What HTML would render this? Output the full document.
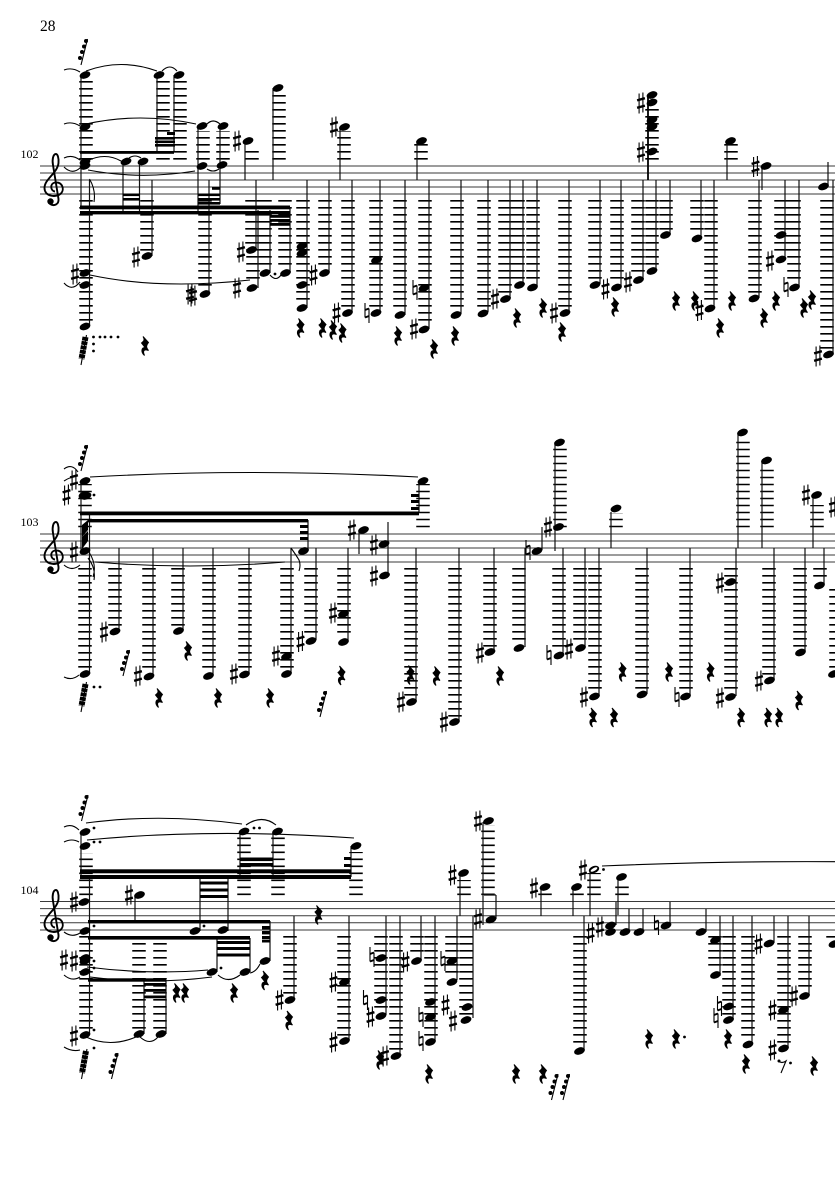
<!DOCTYPE html>
<html><head><meta charset="utf-8"><style>
html,body{margin:0;padding:0;background:#fff}
svg{display:block}
.st{stroke:#3a3a3a;stroke-width:1;fill:none}
.l{stroke:#000;stroke-width:13.5;stroke-dasharray:1.6 5.4;fill:none}
.v{stroke:#111;stroke-width:1.2;fill:none}
.t{stroke:#000;stroke-width:1.1;fill:none}
text{font-family:"Liberation Serif",serif;fill:#000}
</style></head><body>
<svg width="835" height="1181" viewBox="0 0 835 1181" xmlns="http://www.w3.org/2000/svg">
<defs>
<ellipse id="n" rx="5.6" ry="3.5" transform="rotate(-20)"/>
<g id="s"><path d="M-1.9-9.5V10.5M1.9-10.5V9.5" stroke="#000" stroke-width="1.1"/><path d="M-3.9-2.6L3.9-4.8M-3.9 4.8L3.9 2.6" stroke="#000" stroke-width="2.4"/></g>
<g id="h"><path d="M-2-10V4.5M2-4.5V10" stroke="#000" stroke-width="1.1"/><path d="M-2-3L2-4.5M-2 4.5L2 3" stroke="#000" stroke-width="2"/></g>
<path id="r" d="M-2-9.5L3.5-3.5C1.5-1 .5 1 3.5 4.5C0 3-3 4-.5 9.5C-4.5 6-3.5 1.5 0 1.5L-3.5-3C-1-5 0-6-2-9.5Z" fill="#000" stroke="#000" stroke-width="1"/>
<g id="q"><path d="M0 0L6.5-26" stroke="#000" stroke-width="1.1"/><circle cx="5" cy="-24" r="2"/><circle cx="3" cy="-18.5" r="2"/><circle cx="1" cy="-13" r="2"/><circle cx="-1" cy="-7" r="2"/></g>
<g id="k"><path d="M0 0L5.5-30" stroke="#000" stroke-width="1.1"/><path d="M4.5-28L.5-6" stroke="#000" stroke-width="6" stroke-dasharray="3.8 .6"/></g>
<g id="c"><path d="M1 4.5C-3.5 4-4.5-3.5 1-4.5C8-5.5 11 2 7 6.5C2 11-9.5 9.5-9.5 1C-9.5-8 3.5-14 4.5-24C5-29 3.5-33 2-33C-1-33-2-27-1-22L4.5 12C5 17.5 0 19.5-4 17" fill="none" stroke="#000" stroke-width="1.9"/><circle cx="-3.5" cy="14.5" r="3.2"/></g>
</defs>
<rect width="835" height="1181" fill="#fff"/>
<text x="40" y="31" font-size="15.5">28</text>
<text x="20.5" y="158" font-size="12">102</text>
<text x="20.5" y="526" font-size="12">103</text>
<text x="20.5" y="894" font-size="12">104</text>
<path class="st" d="M40 166H835M40 173H835M40 180H835M40 187H835M40 194H835M40 534H835M40 541H835M40 548H835M40 555H835M40 562H835M40 901.5H835M40 908.6H835M40 915.7H835M40 922.8H835M40 930H835"/>
<use href="#c" x="54" y="187"/><use href="#c" x="54" y="555"/><use href="#c" x="54" y="923"/>

<!-- ledgers -->
<path class="l" d="M86 159.6V81M86 200V321M163 159.6V79M180 159.6V79M203 159.6V131M223 159.6V131M205 200V288M147 200V251M252 159.6V146M279 159.6V94M252 200V245M253 200V282M265 200V268M285 200V268M303 200V303M325 200V267M348 200V308M344 159.6V131M376 200V308M400 200V309M421 159.6V144M425 200V324M457 200V309M484 200V307M505 200V294M518 200V279M533 200V282M565 200V307M595 200V279M617 200V282M638 200V274M652 200V265M666 200V230M652 159.6V107M697 200V233M711 200V303M731 159.6V144M755 200V293M781 200V255M794 200V282M827 200V349"/>
<path class="l" d="M85 527.3V484M85 568V669M115 568V626M149 568V671M178 568V626M209 568V671M245 568V668M287 568V669M311 568V636M344 568V637M423 527.3V484M411 568V696M455 568V717M490 568V647M519 568V643M560 527.3V446M559 568V650M580 568V643M595 568V691M616 527.3V513M642 568V689M686 568V691M731 568V691M743 527.3V439M767 527.3V465M769 568V675M800 568V647M817 527.3V505M820 568V580M836 589V669"/>
<path class="l" d="M86 895.1V853M86 936V1029M244 895.1V837M278 895.1V837M139 936V1029M160 936V1029M290 936V995M356 895.1V852M344 936V1036M381 936V1011M396 936V1051M417 936V957M431 936V1036M452 936V977M464 895.1V880M488 895.1V825M466 936V1015M545 895.1V893M577 895.1V893M594 895.1V873M622 895.1V886M580 936V1046M715 936V971M729 936V1015M748 936V1039M784 936V1043M805 936V990M833 936V939"/>

<!-- stems -->
<path class="v" d="M81 75V209M89.5 180V326M123 165V211M139.5 165V211M152 180V256M157 75V151M174 75V151M198 126V211M220 126V204M209 180V293M245 141V180M273 88V180M256 180V250M258 210V288M270 210V273M290 208V273M307 180V308M329 180V272M352 180V312M340 127V180M380 180V313M405 180V315M417 141V180M429 180V329M461 180V314M488 180V312M510 180V298M523 180V284M537 180V286M569 180V312M600 180V284M621 180V286M643 180V279M656 180V270M670 180V235M701 180V238M714 180V308M727 141V180M759 180V298M762 168V190M785 180V260M799 180V286M828 162V186M833 180V355"/>
<path d="M648 96V180" stroke="#000" stroke-width="1.8"/>
<path class="v" d="M81 481V553M89.5 514V674M119 548V630M153 548V675M183 548V630M213 548V675M249 548V673M291 548V673M316 548V640M308 520V550M419 482V513M348 548V640M359 532V554M388 522V576M416 548V702M459 548V720M494 548V650M525 548V647M542 527V550M555 442V551M563 548V654M585 548V647M611 512V548M599 548V696M647 548V694M690 548V696M736 548V696M738 433V548M762 462V548M774 548V680M805 548V651M813 497V548M824 548V584"/>
<path class="v" d="M81 832V877M89.5 877V1034M135 897V921M144 980V1034M166 980V1034M200 875V931M228 875V931M217 938V972M250 938V972M270 921V961M240 832V878M273 832V878M294 916V1000M351 846V877M349 916V1040M386 916V1015M400 916V1055M421 916V960M435 916V1040M457 916V980M460 873V916M483 822V925M473 916V1018M496 895V919M484 895H496M541 887V916M573 887V916M590 871V916M584 916V1050M616 902V925M618 878V915M629 909V932M643 909V932M670 902V925M706 909V932M720 916V976M733 916V1020M752 916V1044M774 916V943M788 916V1048M809 916V995"/>

<!-- beams -->
<g fill="#000">
<rect x="80" y="151" width="94" height="2.8"/>
<rect x="155" y="137" width="20" height="2.6"/><rect x="155" y="140.5" width="20" height="2.6"/><rect x="155" y="144" width="20" height="2.6"/><rect x="167" y="132" width="8" height="3"/>
<rect x="80" y="205.5" width="210" height="3.8"/><rect x="80" y="211" width="210" height="3.4"/>
<rect x="123" y="193.5" width="17" height="2.6"/><rect x="123" y="198" width="17" height="2.6"/><rect x="198" y="193.5" width="22" height="2.6"/><rect x="198" y="198" width="22" height="2.6"/><rect x="198" y="202" width="22" height="2.6"/><rect x="212" y="187" width="8" height="2.8"/>
<rect x="270" y="215" width="20" height="2.8"/><rect x="270" y="219" width="20" height="2.8"/><rect x="270" y="223" width="20" height="2.8"/>
<rect x="80" y="511.5" width="339" height="3.8"/><rect x="88" y="519" width="220" height="3.4"/>
<rect x="300" y="525" width="8" height="3"/><rect x="300" y="531" width="8" height="3"/><rect x="300" y="537" width="8" height="3"/>
<rect x="411" y="494" width="8" height="3"/><rect x="411" y="500" width="8" height="3"/><rect x="411" y="507" width="8" height="3"/>
<rect x="80" y="869.3" width="271" height="4"/><rect x="80" y="875" width="271" height="4"/>
<rect x="88" y="920" width="182" height="3.4"/><rect x="88" y="936" width="162" height="3.6"/><rect x="88" y="978.3" width="78" height="3.4"/>
<rect x="144" y="983" width="22" height="2.8"/><rect x="144" y="989" width="22" height="2.8"/><rect x="144" y="995.5" width="22" height="2.8"/>
<rect x="200" y="881.5" width="28" height="3"/><rect x="200" y="888.5" width="28" height="3"/><rect x="200" y="895" width="28" height="3"/>
<rect x="217" y="941" width="33" height="3"/><rect x="217" y="947" width="33" height="3"/><rect x="217" y="953.5" width="33" height="3"/>
<rect x="240" y="857.5" width="33" height="3.6"/><rect x="240" y="863" width="33" height="3.6"/>
<rect x="262" y="926" width="8" height="3.4"/><rect x="262" y="931" width="8" height="3.4"/><rect x="262" y="936" width="8" height="3.4"/><rect x="262" y="940" width="8" height="2.5"/>
<rect x="344" y="857" width="7" height="3"/><rect x="344" y="864" width="7" height="3"/>
<path d="M82 525L88 520V530L82 537ZM82 537L88 531V541L82 549Z"/>
</g>

<!-- ties and flags -->
<path class="t" d="M64 70Q72 67 80 72M86 71Q121 58 157 71M162 71Q170 63 177 71M64 124Q72 121 80 126M86 124Q140 112 196 124M207 124Q213 118 220 124M64 158Q72 154 80 160M64 167Q72 175 80 168M87 161Q105 152 121 161M129 158Q135 154 141 158M88 170Q140 180 195 171M207 169Q213 173 219 169M64 283Q72 292 80 282M90 275Q160 290 250 280M270 275Q276 282 281 275M64 469Q72 463 78 472M64 481Q72 476 78 476M90 477Q250 468 418 477M64 565Q72 572 80 565M95 562Q190 570 285 562M64 677Q72 681 79 675M291 548Q296 555 299 560Q301 565 299 571"/>
<path class="t" d="M89.5 179Q96 190 94 202M89.5 553Q97 565 93 577M88 558Q96 568 94 580"/>
<path class="t" d="M64 827Q72 823 79 830M64 842Q72 838 79 842M86 823Q160 813 242 824M246 825Q262 814 276 825M87 840Q210 828 354 838M64 932Q72 938 80 933M64 975Q72 982 80 977M64 1047Q72 1052 80 1050M87 967Q150 975 208 970M90 977Q150 985 212 977M218 975Q228 984 240 975M250 973Q256 972 260 964M86 1037Q110 1048 136 1037M140 1037Q150 1046 158 1037M602 866Q720 861 835 861.7"/>

<!-- system 1 notes -->
<use href="#n" x="85" y="75"/><use href="#n" x="85" y="127"/><use href="#n" x="85" y="162"/><use href="#n" x="85" y="166"/><use href="#n" x="85" y="273"/><use href="#n" x="85" y="285"/><use href="#n" x="85" y="326.5"/>
<use href="#n" x="159" y="75"/><use href="#n" x="179" y="75"/><use href="#n" x="202" y="126"/><use href="#n" x="223" y="126"/><use href="#n" x="202" y="166"/><use href="#n" x="222" y="165"/><use href="#n" x="126" y="161.5"/><use href="#n" x="143" y="161.5"/><use href="#n" x="147" y="256"/><use href="#n" x="205" y="294"/><use href="#n" x="248" y="141"/><use href="#n" x="278" y="88"/><use href="#n" x="251.5" y="250"/><use href="#n" x="252" y="288"/><use href="#n" x="265" y="273"/><use href="#n" x="285.5" y="273"/><use href="#n" x="302" y="246"/><use href="#n" x="302" y="253"/><use href="#n" x="302" y="285"/><use href="#n" x="302" y="308"/><use href="#n" x="324.5" y="273"/><use href="#n" x="347.5" y="313"/><use href="#n" x="344.5" y="127"/><use href="#n" x="376" y="313"/><use href="#n" x="376.5" y="260"/><use href="#n" x="400" y="315"/><use href="#n" x="421.5" y="141"/><use href="#n" x="424" y="329.5"/><use href="#n" x="424" y="288"/><use href="#n" x="456" y="315"/><use href="#n" x="483" y="313.5"/><use href="#n" x="505.5" y="299"/><use href="#n" x="519.5" y="285"/><use href="#n" x="532.5" y="287.5"/><use href="#n" x="565" y="313"/><use href="#n" x="595" y="285"/><use href="#n" x="616.5" y="287.5"/><use href="#n" x="638.5" y="280"/><use href="#n" x="652" y="271"/><use href="#n" x="665.5" y="235"/><use href="#n" x="652" y="95"/><use href="#n" x="652" y="102.5"/><use href="#n" x="652" y="120"/><use href="#n" x="652" y="127"/><use href="#n" x="652" y="151.5"/><use href="#n" x="697" y="238.5"/><use href="#n" x="710" y="308.5"/><use href="#n" x="730.5" y="141"/><use href="#n" x="754" y="298.5"/><use href="#n" x="766" y="166"/><use href="#n" x="781" y="235"/><use href="#n" x="781" y="259.5"/><use href="#n" x="794.5" y="287.5"/><use href="#n" x="823.5" y="186.5"/><use href="#n" x="828.5" y="354.5"/>
<use href="#s" x="75" y="274"/><use href="#s" x="136" y="257"/><use href="#s" x="190" y="294"/><use href="#s" x="193" y="296"/><use href="#s" x="237" y="141"/><use href="#s" x="241" y="252"/><use href="#s" x="237" y="288"/><use href="#s" x="313.5" y="275"/><use href="#s" x="336.5" y="313"/><use href="#s" x="334" y="127"/><use href="#s" x="414" y="329"/><use href="#s" x="495" y="299"/><use href="#s" x="554" y="313"/><use href="#s" x="605.5" y="289"/><use href="#s" x="628" y="282"/><use href="#s" x="641" y="103"/><use href="#s" x="641" y="152"/><use href="#s" x="699.5" y="310.5"/><use href="#s" x="755.5" y="166.5"/><use href="#s" x="770" y="261"/><use href="#s" x="818" y="356"/>
<use href="#h" x="367" y="313"/><use href="#h" x="415" y="290"/><use href="#h" x="786" y="287"/>
<use href="#r" x="145" y="346"/><use href="#r" x="300.5" y="328"/><use href="#r" x="322.5" y="328"/><use href="#r" x="333" y="330"/><use href="#r" x="342.5" y="333"/><use href="#r" x="398" y="336"/><use href="#r" x="434" y="349"/><use href="#r" x="455" y="336"/><use href="#r" x="517" y="318"/><use href="#r" x="543" y="308"/><use href="#r" x="562" y="332"/><use href="#r" x="615" y="307"/><use href="#r" x="676" y="301"/><use href="#r" x="695" y="301"/><use href="#r" x="732" y="301"/><use href="#r" x="720" y="328"/><use href="#r" x="764" y="318"/><use href="#r" x="776" y="301"/><use href="#r" x="804" y="308"/><use href="#r" x="812" y="300"/>
<use href="#q" x="81" y="65"/><use href="#k" x="81" y="365"/>
<g><circle cx="93.5" cy="337" r="1.4"/><circle cx="100" cy="337" r="1.4"/><circle cx="105" cy="337" r="1.4"/><circle cx="111" cy="337" r="1.4"/><circle cx="118" cy="337" r="1.4"/><circle cx="93.5" cy="344" r="1.4"/><circle cx="93.5" cy="351" r="1.4"/><circle cx="275" cy="274" r="1.4"/></g>

<!-- system 2 notes -->
<use href="#n" x="85" y="481"/><use href="#n" x="84" y="495"/><use href="#n" x="86" y="496"/><use href="#n" x="85" y="551"/><use href="#n" x="85" y="674"/><use href="#n" x="115" y="631.5"/><use href="#n" x="149" y="676.5"/><use href="#n" x="178.5" y="631"/><use href="#n" x="208.5" y="676"/><use href="#n" x="244.5" y="674.5"/><use href="#n" x="286.5" y="674"/><use href="#n" x="286.5" y="656.5"/><use href="#n" x="303.5" y="551"/><use href="#n" x="311" y="641"/><use href="#n" x="423" y="481"/><use href="#n" x="343.5" y="614"/><use href="#n" x="343.5" y="642"/><use href="#n" x="363.5" y="530"/><use href="#n" x="384" y="544"/><use href="#n" x="384.5" y="575.5"/><use href="#n" x="411.5" y="702"/><use href="#n" x="454.5" y="722"/><use href="#n" x="490" y="652"/><use href="#n" x="519" y="648"/><use href="#n" x="537" y="551"/><use href="#n" x="558.5" y="527"/><use href="#n" x="559.5" y="442.5"/><use href="#n" x="559" y="655.5"/><use href="#n" x="580.5" y="648"/><use href="#n" x="616" y="508.5"/><use href="#n" x="594.5" y="696.5"/><use href="#n" x="642" y="694.5"/><use href="#n" x="685.5" y="696.5"/><use href="#n" x="730.5" y="697"/><use href="#n" x="730.5" y="582"/><use href="#n" x="742.5" y="432.5"/><use href="#n" x="766.5" y="460.5"/><use href="#n" x="769.5" y="680.5"/><use href="#n" x="800.5" y="652.5"/><use href="#n" x="816.5" y="495"/><use href="#n" x="819.5" y="585.5"/><use href="#n" x="833.5" y="674"/>
<use href="#s" x="66.5" y="495"/><use href="#s" x="74" y="480"/><use href="#s" x="74" y="552"/><use href="#s" x="104" y="632"/><use href="#s" x="138" y="676"/><use href="#s" x="234" y="674"/><use href="#s" x="276" y="656"/><use href="#s" x="300.5" y="641.5"/><use href="#s" x="333" y="613"/><use href="#s" x="352" y="530"/><use href="#s" x="374" y="545"/><use href="#s" x="374" y="576"/><use href="#s" x="401" y="702"/><use href="#s" x="444" y="722"/><use href="#s" x="480" y="653"/><use href="#s" x="548" y="527"/><use href="#s" x="569" y="649"/><use href="#s" x="584" y="697"/><use href="#s" x="720" y="583"/><use href="#s" x="720" y="698"/><use href="#s" x="759" y="681"/><use href="#s" x="806" y="495"/><use href="#s" x="833" y="507"/>
<use href="#h" x="528" y="550"/><use href="#h" x="549" y="655"/><use href="#h" x="677" y="697"/>
<use href="#r" x="188" y="651"/><use href="#r" x="159" y="698"/><use href="#r" x="218" y="698"/><use href="#r" x="270" y="698"/><use href="#r" x="341.5" y="675.5"/><use href="#r" x="410.5" y="675"/><use href="#r" x="436.5" y="676"/><use href="#r" x="500" y="676"/><use href="#r" x="622.5" y="672"/><use href="#r" x="669" y="672"/><use href="#r" x="710.5" y="672"/><use href="#r" x="593" y="717.5"/><use href="#r" x="614" y="717.5"/><use href="#r" x="741" y="717.5"/><use href="#r" x="768" y="717.5"/><use href="#r" x="779" y="717.5"/><use href="#r" x="799" y="700.5"/>
<use href="#q" x="81" y="471"/><use href="#q" x="123" y="676"/><use href="#q" x="320" y="717"/><use href="#k" x="81" y="712"/>
<circle cx="94" cy="495" r="1.4"/><circle cx="94" cy="687" r="1.4"/><circle cx="100" cy="687" r="1.4"/>

<!-- system 3 notes -->
<use href="#n" x="85" y="832"/><use href="#n" x="85" y="846"/><use href="#n" x="84" y="902"/><use href="#n" x="85" y="931"/><use href="#n" x="85" y="958"/><use href="#n" x="85" y="961"/><use href="#n" x="85" y="972"/><use href="#n" x="85" y="1035"/><use href="#n" x="139" y="1034"/><use href="#n" x="161" y="1034"/><use href="#n" x="195" y="931"/><use href="#n" x="223" y="930"/><use href="#n" x="139.5" y="895"/><use href="#n" x="212" y="972"/><use href="#n" x="245" y="972"/><use href="#n" x="265" y="961"/><use href="#n" x="244" y="831.5"/><use href="#n" x="277.5" y="831.5"/><use href="#n" x="290" y="1000"/><use href="#n" x="356" y="846"/><use href="#n" x="344.5" y="1041"/><use href="#n" x="344.5" y="982"/><use href="#n" x="381" y="1016"/><use href="#n" x="381" y="1000"/><use href="#n" x="381" y="958"/><use href="#n" x="396" y="1056"/><use href="#n" x="416.5" y="961"/><use href="#n" x="430.5" y="1002"/><use href="#n" x="430.5" y="1017"/><use href="#n" x="430.5" y="1042"/><use href="#n" x="452" y="982"/><use href="#n" x="452" y="961"/><use href="#n" x="463.5" y="873"/><use href="#n" x="488.5" y="821"/><use href="#n" x="467" y="1007"/><use href="#n" x="466" y="1020"/><use href="#n" x="491" y="919.5"/><use href="#n" x="545" y="887"/><use href="#n" x="576.5" y="887"/><use href="#n" x="579.5" y="1051"/><use href="#n" x="610.5" y="932"/><use href="#n" x="610.5" y="925.5"/><use href="#n" x="621.5" y="877"/><use href="#n" x="625" y="932"/><use href="#n" x="639" y="932"/><use href="#n" x="666" y="925.5"/><use href="#n" x="701" y="932"/><use href="#n" x="715.5" y="975"/><use href="#n" x="715.5" y="940"/><use href="#n" x="728.5" y="1006.5"/><use href="#n" x="728.5" y="1020"/><use href="#n" x="748" y="1044.5"/><use href="#n" x="769" y="943.5"/><use href="#n" x="783.5" y="1048.5"/><use href="#n" x="783.5" y="1010"/><use href="#n" x="804.5" y="996"/><use href="#n" x="834" y="944"/>
<ellipse cx="594" cy="869.5" rx="5.4" ry="3.4" transform="rotate(-20 594 869.5)" fill="#000"/><ellipse cx="594" cy="869.5" rx="3.8" ry="1.5" transform="rotate(-30 594 869.5)" fill="#fff"/>
<use href="#s" x="74" y="902"/><use href="#s" x="74" y="961"/><use href="#s" x="64" y="960"/><use href="#s" x="74" y="1036"/><use href="#s" x="129" y="895"/><use href="#s" x="279.5" y="1000"/><use href="#s" x="333.5" y="982"/><use href="#s" x="333.5" y="1042"/><use href="#s" x="370.5" y="1017"/><use href="#s" x="385" y="1056"/><use href="#s" x="405.5" y="962"/><use href="#s" x="452.5" y="875"/><use href="#s" x="478" y="821"/><use href="#s" x="445.5" y="1005"/><use href="#s" x="453" y="1021"/><use href="#s" x="478" y="919"/><use href="#s" x="534" y="888"/><use href="#s" x="583" y="870"/><use href="#s" x="590.5" y="933"/><use href="#s" x="600" y="927"/><use href="#s" x="758.5" y="944"/><use href="#s" x="772.5" y="1010"/><use href="#s" x="772.5" y="1050"/><use href="#s" x="794" y="996"/>
<use href="#h" x="372" y="957"/><use href="#h" x="365.5" y="1000"/><use href="#h" x="421" y="1017"/><use href="#h" x="421" y="1041"/><use href="#h" x="443" y="961"/><use href="#h" x="656.5" y="925"/><use href="#h" x="719.5" y="1006"/><use href="#h" x="716" y="1018"/>
<use href="#r" x="176.5" y="993"/><use href="#r" x="185" y="993"/><use href="#r" x="234" y="993"/><use href="#r" x="265" y="980.5"/><use href="#r" x="289" y="1020.5"/><use href="#r" x="318.5" y="915"/><use href="#r" x="380" y="1060"/><use href="#r" x="429" y="1074"/><use href="#r" x="516" y="1074"/><use href="#r" x="543" y="1074"/><use href="#r" x="649" y="1039"/><use href="#r" x="676" y="1039"/><use href="#r" x="728" y="1039"/><use href="#r" x="746" y="1064"/><use href="#r" x="814" y="1066"/>
<use href="#q" x="81.5" y="821"/><use href="#q" x="111.5" y="1079"/><use href="#q" x="551.5" y="1100"/><use href="#q" x="563" y="1100"/><use href="#k" x="81.5" y="1079"/>
<path d="M781 1073L786 1061Q782 1064 778 1061" fill="none" stroke="#000" stroke-width="1.1"/><circle cx="779" cy="1061" r="1.5"/>
<circle cx="94" cy="828" r="1.4"/><circle cx="94" cy="842" r="1.4"/><circle cx="100" cy="842" r="1.4"/><circle cx="94" cy="926" r="1.4"/><circle cx="94" cy="961" r="1.4"/><circle cx="94" cy="968" r="1.4"/><circle cx="94" cy="1030" r="1.4"/><circle cx="94" cy="1048" r="1.4"/><circle cx="204" cy="926" r="1.4"/><circle cx="221" cy="968" r="1.4"/><circle cx="254" cy="828" r="1.4"/><circle cx="259.5" cy="828" r="1.4"/><circle cx="603.5" cy="869.5" r="1.4"/><circle cx="684.5" cy="1037" r="1.4"/><circle cx="790.5" cy="1063" r="1.4"/>
</svg>
</body></html>
